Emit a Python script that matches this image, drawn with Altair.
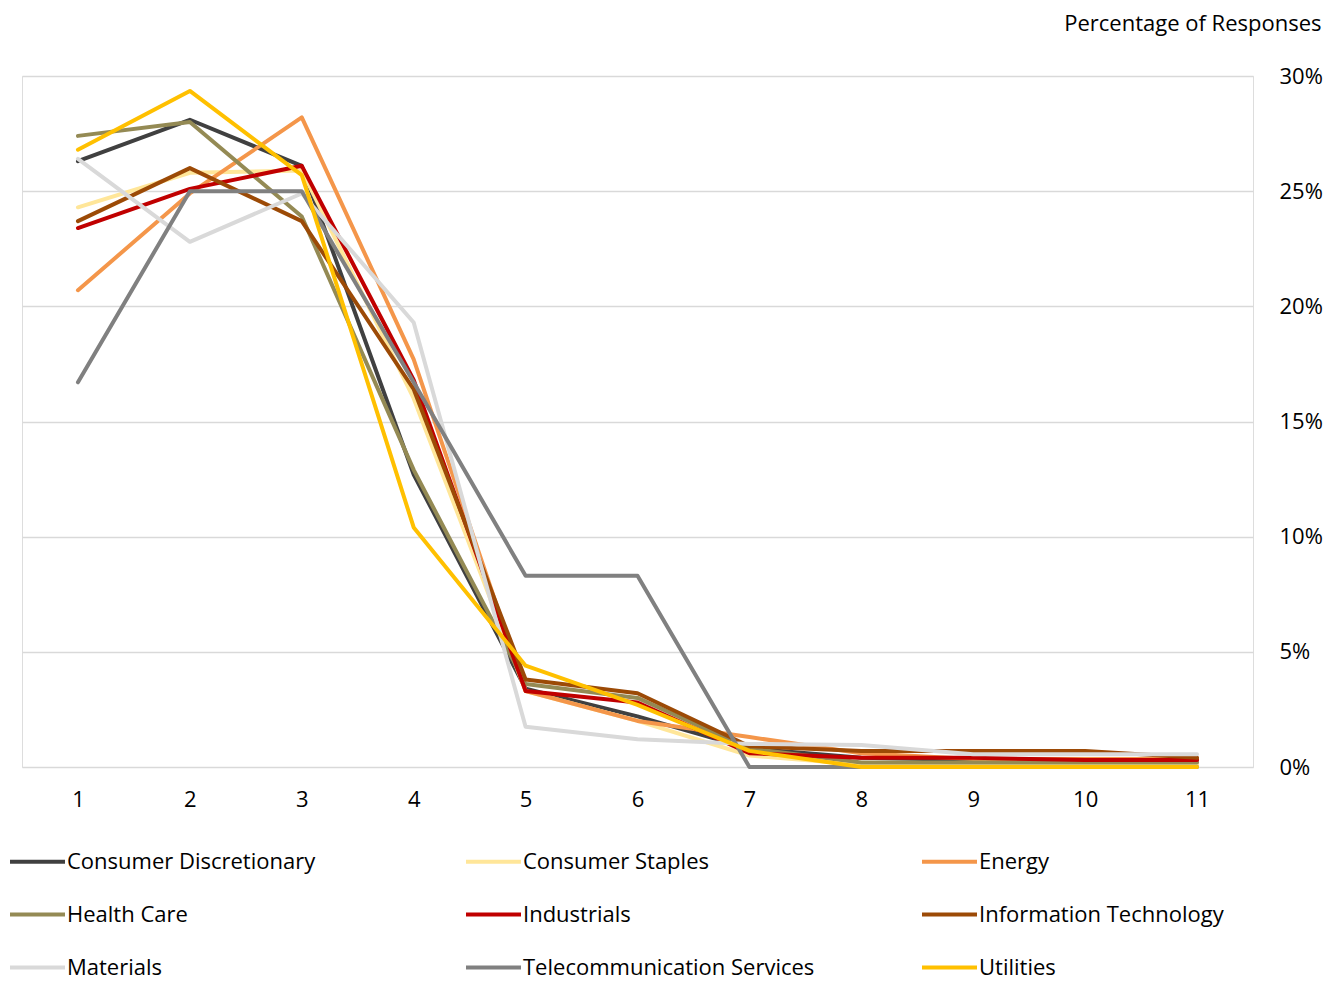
import altair as alt
import pandas as pd

ranks = [1, 2, 3, 4, 5, 6, 7, 8, 9, 10, 11]
sectors = ["Consumer Discretionary", "Consumer Staples", "Energy",
           "Health Care", "Industrials", "Information Technology",
           "Materials", "Telecommunication Services", "Utilities"]
colors = ["#404040", "#FFE699", "#F4964A",
          "#948A54", "#C00000", "#9C4A06",
          "#D9D9D9", "#808080", "#FFC000"]

consumer_discretionary = [26.3, 28.1, 26.1, 12.7, 3.4, 2.2, 0.8, 0.4, 0.3, 0.3, 0.3]
consumer_staples = [24.3, 25.8, 25.9, 16.0, 3.3, 2.0, 0.5, 0.1, 0.1, 0.1, 0.1]
energy = [20.7, 24.9, 28.2, 17.7, 3.3, 2.0, 1.3, 0.6, 0.35, 0.35, 0.35]
health_care = [27.4, 28.0, 23.9, 12.9, 3.6, 3.0, 0.8, 0.2, 0.2, 0.2, 0.2]
industrials = [23.4, 25.1, 26.1, 16.8, 3.3, 2.8, 0.6, 0.4, 0.4, 0.3, 0.3]
information_technology = [23.7, 26.0, 23.7, 16.4, 3.8, 3.2, 0.9, 0.7, 0.7, 0.7, 0.4]
materials = [26.4, 22.8, 24.9, 19.3, 1.75, 1.2, 1.0, 0.95, 0.55, 0.55, 0.55]
telecommunication_services = [16.7, 25.0, 25.0, 16.7, 8.3, 8.3, 0.0, 0.0, 0.0, 0.0, 0.0]
utilities = [26.8, 29.35, 25.7, 10.4, 4.4, 2.7, 0.7, 0.0, 0.0, 0.0, 0.0]

series = [consumer_discretionary, consumer_staples, energy, health_care, industrials,
          information_technology, materials, telecommunication_services, utilities]

rows = []
for i, (name, vals) in enumerate(zip(sectors, series)):
    for r, v in zip(ranks, vals):
        rows.append({"Rank": r, "Sector": name, "Value": v / 100.0, "ord": i})
df = pd.DataFrame(rows)

FONT = "Open Sans"
FS = 22

chart = alt.Chart(df).mark_line(strokeWidth=4, strokeCap="round", strokeJoin="round").encode(
    x=alt.X("Rank:Q", scale=alt.Scale(domain=[0.5, 11.5], nice=False, zero=False),
            axis=alt.Axis(values=ranks, grid=False, domain=False, ticks=False,
                          labelFontSize=FS, labelFont=FONT, labelColor="#000000",
                          labelPadding=22, title=None, format="d")),
    y=alt.Y("Value:Q", scale=alt.Scale(domain=[0, 0.3], nice=False),
            axis=alt.Axis(orient="right", values=[0, 0.05, 0.1, 0.15, 0.2, 0.25, 0.3],
                          format=".0%", grid=True, gridColor="#D9D9D9", gridWidth=1.5,
                          domain=False, ticks=False, labelFontSize=FS, labelFont=FONT,
                          labelColor="#000000", labelPadding=26, labelAlign="left",
                          title="Percentage of Responses", titleAngle=0, titleFontSize=FS,
                          titleFont=FONT, titleFontWeight="normal", titleColor="#000000",
                          titleAlign="right", titleBaseline="middle", titleX=68, titleY=-53)),
    color=alt.Color("Sector:N", scale=alt.Scale(domain=sectors, range=colors),
                    legend=alt.Legend(orient="none", legendX=-14, legendY=756, columns=3,
                                      direction="horizontal", title=None,
                                      symbolType="stroke", symbolSize=3025,
                                      symbolStrokeWidth=4, labelFontSize=FS,
                                      labelFont=FONT, labelColor="#000000",
                                      labelOffset=0, gridAlign="all", columnPadding=99,
                                      rowPadding=12, labelLimit=400)),
    order=alt.Order("ord:Q"),
    detail="Sector:N",
).properties(
    width=1231, height=691,
    autosize=alt.AutoSizeParams(type="none"),
    padding={"left": 14, "top": 68, "right": 80, "bottom": 218},
).configure_view(stroke="transparent", strokeWidth=0, strokeOpacity=0
).configure_axisX(grid=False, domain=False
).configure(background="white")

chart.save("out.html", embed_options={"renderer": "svg", "actions": False})
